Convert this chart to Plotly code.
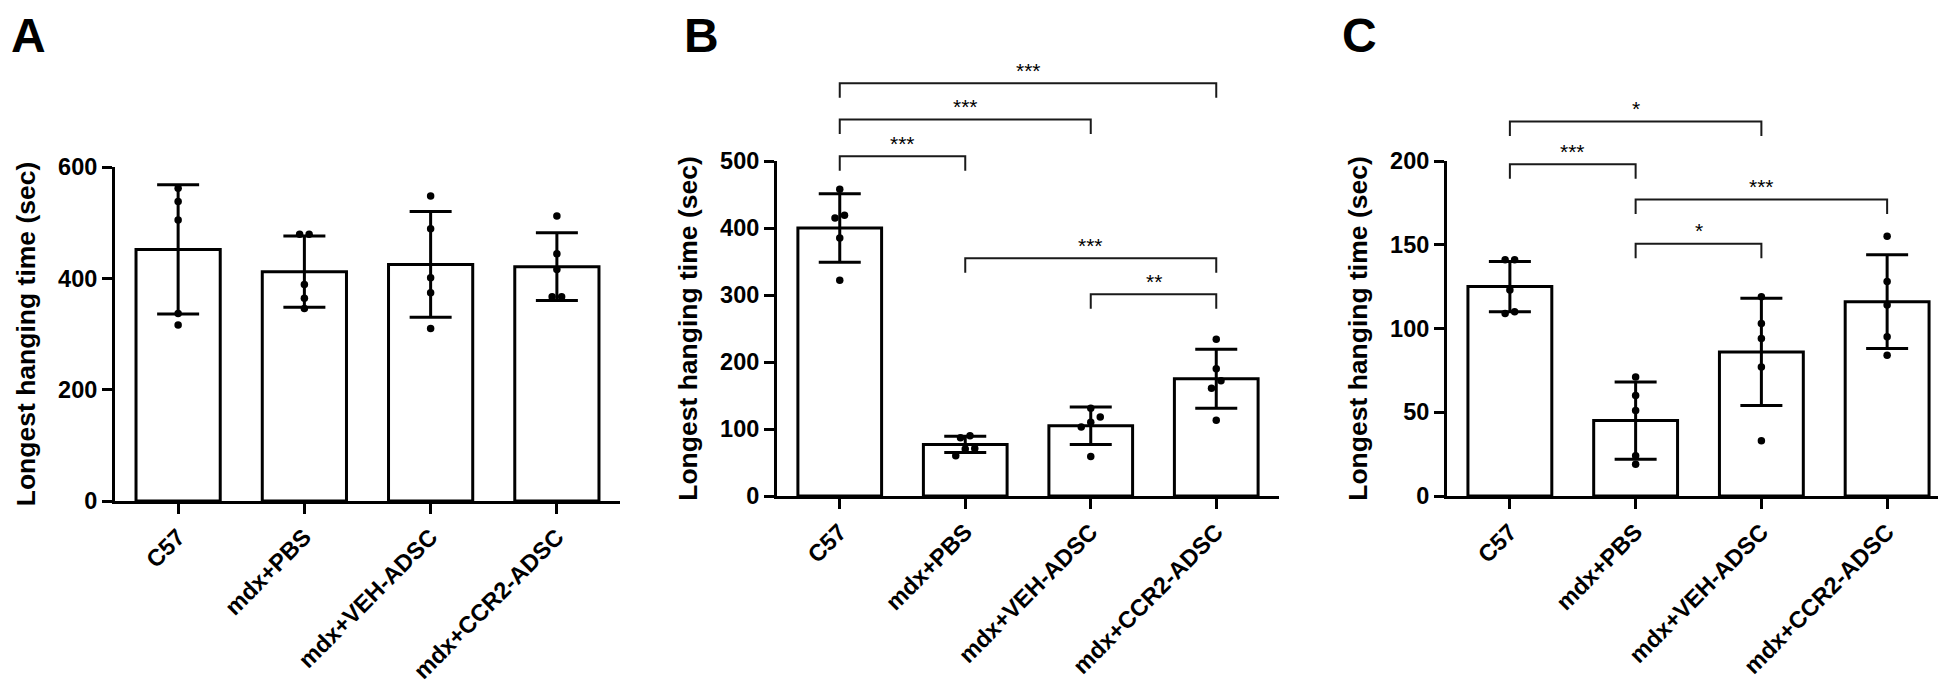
import plotly.graph_objects as go

# ---------------- data ----------------
categories = ["C57", "mdx+PBS", "mdx+VEH-ADSC", "mdx+CCR2-ADSC"]

a_means = [452, 412, 425, 421]
a_sd = [116, 64, 95, 61]
a_points = [
    [562, 538, 505, 337, 316],
    [479, 479, 389, 364, 346],
    [548, 489, 401, 374, 310],
    [512, 444, 416, 367, 367],
]

b_means = [400, 77, 105, 175]
b_sd = [51, 12, 28, 44]
b_points = [
    [458, 419, 415, 385, 322],
    [90, 87, 71, 70, 60],
    [131, 118, 110, 103, 59],
    [234, 190, 172, 161, 113],
]
b_brackets = [(0, 3, 616, "***"), (0, 2, 562, "***"), (0, 1, 507, "***"),
              (1, 3, 355, "***"), (2, 3, 301, "**")]

c_means = [125, 45, 86, 116]
c_sd = [15, 23, 32, 28]
c_points = [
    [141, 141, 123, 110, 109],
    [71, 60, 51, 24, 19],
    [119, 103, 94, 77, 33],
    [155, 128, 114, 95, 84],
]
c_brackets = [(0, 2, 223.6, "*"), (0, 1, 198, "***"),
              (1, 3, 177, "***"), (1, 2, 150.6, "*")]

y_title = "Longest hanging time (sec)"

# ---------------- layout geometry ----------------
W, H = 1946, 682
FONT = "Liberation Sans, Arial, sans-serif"

panels = [
    dict(letter="A", means=a_means, sd=a_sd, pts=a_points, brackets=[],
         xpx=(107, 612), ypx=(159, 493), ymax=600, dtick=200, letter_x=2),
    dict(letter="B", means=b_means, sd=b_sd, pts=b_points, brackets=b_brackets,
         xpx=(769, 1271), ypx=(153, 488), ymax=500, dtick=100, letter_x=675),
    dict(letter="C", means=c_means, sd=c_sd, pts=c_points, brackets=c_brackets,
         xpx=(1439, 1942), ypx=(153, 488), ymax=200, dtick=50, letter_x=1333),
]


def swarm_offsets(vals, unit_px, cat_px, dot_px=7.5, step_px=9.5):
    """Spread points that would overlap horizontally (beeswarm-like)."""
    order = sorted(range(len(vals)), key=lambda k: vals[k])
    clusters, cur = [], [order[0]]
    for k in order[1:]:
        if abs(vals[k] - vals[cur[-1]]) * unit_px < dot_px:
            cur.append(k)
        else:
            clusters.append(cur)
            cur = [k]
    clusters.append(cur)
    offs = [0.0] * len(vals)
    for cl in clusters:
        n = len(cl)
        for m, k in enumerate(cl):
            offs[k] = (m - (n - 1) / 2) * step_px / cat_px
    return offs


fig = go.Figure()
layout = dict(
    width=W, height=H, margin=dict(l=0, r=0, t=0, b=0),
    paper_bgcolor="white", plot_bgcolor="rgba(0,0,0,0)",
    showlegend=False, font=dict(family=FONT, color="black"),
    annotations=[],
)

for n, p in enumerate(panels, start=1):
    sx = "" if n == 1 else str(n)
    xa, ya = "x" + sx, "y" + sx
    x0, x1 = p["xpx"]
    yt, yb = p["ypx"]
    plot_h = yb - yt
    unit_px = plot_h / p["ymax"]
    cat_px = (x1 - x0) / 4.0

    fig.add_trace(go.Bar(
        x=list(range(4)), y=p["means"], width=0.667,
        marker=dict(color="white", line=dict(color="black", width=3)),
        error_y=dict(type="data", array=p["sd"], visible=True,
                     color="black", thickness=3, width=21),
        xaxis=xa, yaxis=ya, hoverinfo="skip", cliponaxis=False,
    ))

    px_, py_ = [], []
    for i, vals in enumerate(p["pts"]):
        offs = swarm_offsets(vals, unit_px, cat_px)
        for v, o in zip(vals, offs):
            px_.append(i + o)
            py_.append(v)
    fig.add_trace(go.Scatter(
        x=px_, y=py_, mode="markers",
        marker=dict(color="black", size=7.5),
        xaxis=xa, yaxis=ya, cliponaxis=False, hoverinfo="skip",
    ))

    if p["brackets"]:
        # invisible companion y axis sharing the same data scale but
        # extending up to the top of the figure, so brackets aren't clipped
        ov = "y" + str(3 + n)
        layout["yaxis" + str(3 + n)] = dict(
            domain=[(H - yb) / H, 1.0], anchor=xa,
            range=[0, p["ymax"] * yb / plot_h], visible=False,
            fixedrange=True,
        )
        drop = 14.5 / unit_px
        bx, by = [], []
        for (i, j, yv, lab) in p["brackets"]:
            bx += [i, i, j, j, None]
            by += [yv - drop, yv, yv, yv - drop, None]
            layout["annotations"].append(dict(
                x=(i + j) / 2, y=yv, xref=xa, yref=ov, text=lab,
                showarrow=False, yshift=13, yanchor="middle",
                font=dict(family=FONT, size=21, color="black"),
            ))
        fig.add_trace(go.Scatter(
            x=bx, y=by, mode="lines", line=dict(color="#1a1a1a", width=2),
            xaxis=xa, yaxis=ov, hoverinfo="skip",
        ))

    tickfont = dict(family=FONT, size=23.5, color="black", weight="bold")
    layout["xaxis" + sx] = dict(
        domain=[x0 / W, x1 / W], anchor=ya, range=[-0.5, 3.5],
        tickmode="array", tickvals=list(range(4)), ticktext=categories,
        tickangle=-45, tickfont=tickfont,
        showline=True, linecolor="black", linewidth=3,
        ticks="outside", ticklen=10, tickwidth=3, tickcolor="black",
        showgrid=False, zeroline=False, fixedrange=True, automargin=False,
    )
    layout["yaxis" + sx] = dict(
        domain=[(H - yb) / H, (H - yt) / H], anchor=xa,
        range=[0, p["ymax"]], dtick=p["dtick"], tick0=0,
        tickfont=tickfont,
        title=dict(text=y_title, standoff=15,
                   font=dict(family=FONT, size=26.5, color="black", weight="bold")),
        showline=True, linecolor="black", linewidth=3,
        ticks="outside", ticklen=10, tickwidth=3, tickcolor="black",
        showgrid=False, zeroline=False, fixedrange=True, automargin=False,
    )
    layout["annotations"].append(dict(
        x=p["letter_x"] / W, y=1.0, xref="paper", yref="paper",
        xanchor="left", yanchor="top", text=p["letter"], showarrow=False,
        borderpad=0,
        font=dict(family=FONT, size=48, color="black", weight="bold"),
    ))

fig.update_layout(**layout)
fig.write_html("out.html")
